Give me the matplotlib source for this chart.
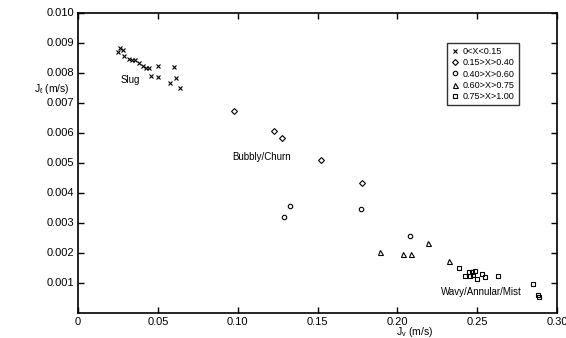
import matplotlib
matplotlib.use("Agg")
import matplotlib.pyplot as plt

plt.rcParams['font.family'] = ['Liberation Sans', 'DejaVu Sans']
plt.rcParams['mathtext.fontset'] = 'custom'
plt.rcParams['mathtext.rm'] = 'Liberation Sans'
plt.rcParams['mathtext.it'] = 'Liberation Sans'

# Superficial velocities (m/s), grouped by quality range
slug_jv = [0.0261, 0.0279, 0.0252, 0.0289, 0.0319, 0.0338, 0.0356, 0.0383, 0.0408,
           0.0429, 0.0447, 0.0498, 0.0456, 0.0498, 0.0600, 0.0613, 0.0575, 0.0638]
slug_jl = [0.00881, 0.00876, 0.00869, 0.00855, 0.00845, 0.00843, 0.00842, 0.00831, 0.00823,
           0.00814, 0.00815, 0.00822, 0.00789, 0.00786, 0.00819, 0.00783, 0.00766, 0.00747]

q2_jv = [0.0975, 0.1229, 0.1275, 0.1523, 0.1779]
q2_jl = [0.00672, 0.00606, 0.00581, 0.00508, 0.00431]

q3_jv = [0.1329, 0.1288, 0.1773, 0.2081]
q3_jl = [0.00355, 0.00318, 0.00346, 0.00256]

q4_jv = [0.1894, 0.2033, 0.2088, 0.2189, 0.2325]
q4_jl = [0.00203, 0.00194, 0.00194, 0.00233, 0.00172]

q5_jv = [0.2388, 0.2425, 0.2450, 0.2454, 0.2467, 0.2477, 0.2488, 0.2498, 0.2529,
         0.2548, 0.2629, 0.2850, 0.2883, 0.2888]
q5_jl = [0.00147, 0.00123, 0.00134, 0.00123, 0.00136, 0.00125, 0.00139, 0.00112, 0.00128,
         0.00117, 0.00122, 0.00096, 0.00058, 0.00053]

series_labels = ['0<X<0.15', '0.15>X>0.40', '0.40>X>0.60', '0.60>X>0.75', '0.75>X>1.00']
x_ticks = [0, 0.05, 0.10, 0.15, 0.20, 0.25, 0.30]
x_tick_labels = ['0', '0.05', '0.10', '0.15', '0.20', '0.25', '0.30']
y_ticks = [0.001, 0.002, 0.003, 0.004, 0.005, 0.006, 0.007, 0.008, 0.009, 0.010]
y_tick_labels = ['0.001', '0.002', '0.003', '0.004', '0.005', '0.006', '0.007', '0.008',
                 '0.009', '0.010']
regime_labels = ['Slug', 'Bubbly/Churn', 'Wavy/Annular/Mist']
regime_pos = [(0.0265, 0.00775), (0.0965, 0.00518), (0.2273, 0.00068)]

fig = plt.figure(figsize=(5.66, 3.38), dpi=100)
ax = fig.add_axes([78 / 566, 1 - 312.5 / 338, (557 - 78) / 566, (312.5 - 12.5) / 338])

mk = dict(linestyle='none', color='black', markerfacecolor='none', markeredgewidth=0.8)
ax.plot(slug_jv, slug_jl, marker='x', markersize=3.2, label=series_labels[0], **mk)
ax.plot(q2_jv, q2_jl, marker='D', markersize=3.0, label=series_labels[1], **mk)
ax.plot(q3_jv, q3_jl, marker='o', markersize=3.2, label=series_labels[2], **mk)
ax.plot(q4_jv, q4_jl, marker='^', markersize=3.6, label=series_labels[3], **mk)
ax.plot(q5_jv, q5_jl, marker='s', markersize=3.2, label=series_labels[4], **mk)

ax.set_xlim(0, 0.30)
ax.set_ylim(0, 0.010)
ax.set_xticks(x_ticks)
ax.set_xticklabels(x_tick_labels)
ax.set_yticks(y_ticks)
ax.set_yticklabels(y_tick_labels)
ax.tick_params(direction='in', length=4.5, width=1, labelsize=8, pad=3,
               top=True, right=True, colors='black')
for s in ax.spines.values():
    s.set_linewidth(1.2)

for txt, (x, y) in zip(regime_labels, regime_pos):
    ax.text(x, y, txt, fontsize=7, ha='left', va='center')

fig.text(396 / 566, 1 - 332 / 338, r'$\mathregular{J_v}$ (m/s)', fontsize=7.5,
         ha='left', va='center')
fig.text(34 / 566, 1 - 89 / 338, r'$\mathregular{J_{\ell}}$ (m/s)', fontsize=7.5,
         ha='left', va='center')

leg = ax.legend(loc='upper left', bbox_to_anchor=((447 - 78) / 479, 1 - (43 - 12.5) / 300),
                fontsize=6.5, frameon=True, fancybox=False, edgecolor='black',
                handlelength=0.8, handletextpad=0.5, borderpad=0.45, labelspacing=0.25,
                borderaxespad=0)
leg.get_frame().set_linewidth(1.0)

fig.savefig('out.png', dpi=100)
